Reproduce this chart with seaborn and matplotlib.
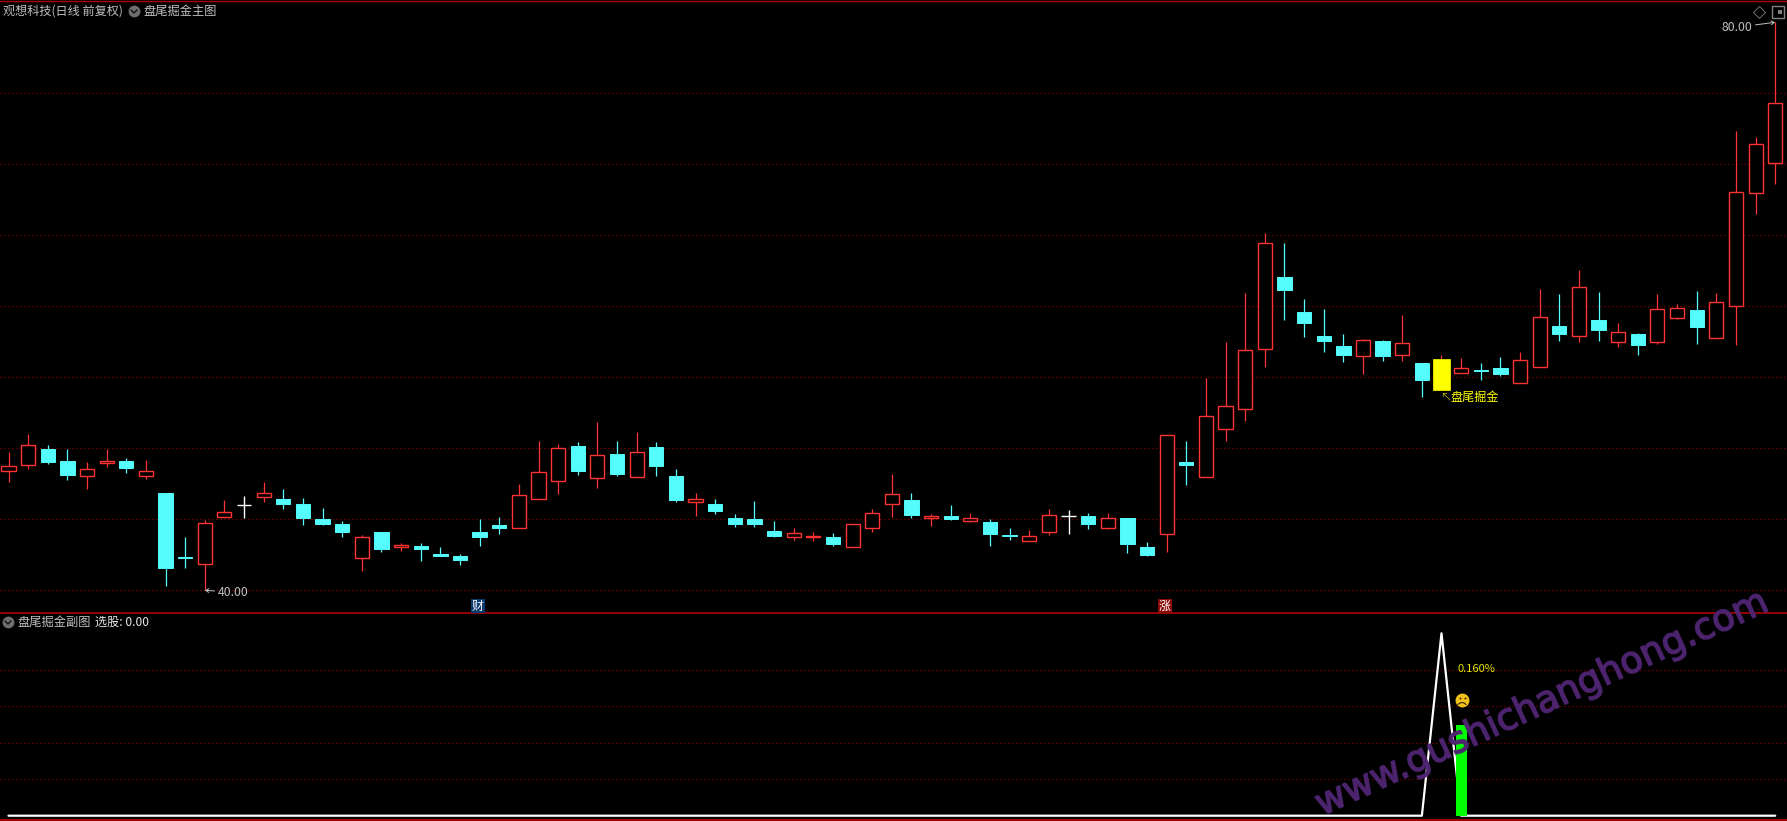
import numpy as np
import pandas as pd
import matplotlib
matplotlib.use('Agg')
import matplotlib.pyplot as plt
import matplotlib.patheffects as pe
import seaborn as sns

# Kursdaten
opens = [48.38, 48.85, 49.95, 49.11, 48.08, 48.97, 49.11, 48.08, 46.85, 42.35, 41.88, 45.19, 46.00,
         46.60, 46.43, 46.08, 45.02, 44.67, 42.30, 44.11, 43.03, 43.12, 42.56, 42.42, 44.11, 44.60,
         44.41, 46.46, 47.72, 50.16, 47.93, 49.60, 48.00, 50.09, 48.05, 46.24, 46.08, 45.09, 45.02,
         44.18, 43.78, 43.78, 43.76, 43.08, 44.41, 46.10, 46.36, 45.09, 45.23, 44.91, 44.81, 43.90,
         43.50, 44.13, 45.20, 45.23, 44.41, 45.09, 43.05, 43.99, 49.04, 48.00, 51.38, 52.79, 57.02,
         62.07, 59.60, 57.91, 57.21, 56.53, 57.56, 56.60, 56.01, 54.11, 55.33, 55.49, 55.66, 54.62,
         55.75, 58.62, 57.93, 59.04, 57.51, 58.05, 57.51, 59.20, 59.74, 57.79, 60.00, 68.00, 70.12]
highs = [49.74, 51.01, 50.23, 49.95, 49.04, 49.95, 49.32, 49.18, 46.85, 43.76, 44.93, 46.36, 46.64,
         47.63, 47.14, 46.50, 45.80, 44.88, 43.90, 44.11, 43.33, 43.33, 43.05, 42.56, 45.02, 45.16,
         47.49, 50.52, 50.31, 50.45, 51.85, 50.52, 51.15, 50.45, 48.54, 46.85, 46.43, 45.38, 46.29,
         44.88, 44.39, 44.11, 44.04, 44.65, 45.73, 48.19, 46.85, 45.38, 46.01, 45.45, 45.02, 44.39,
         44.25, 45.73, 45.66, 45.45, 45.45, 45.09, 43.40, 50.92, 50.52, 54.95, 57.49, 60.94, 65.16,
         64.46, 60.52, 59.81, 58.05, 57.70, 57.63, 59.39, 56.01, 56.57, 56.36, 56.01, 56.43, 56.78,
         61.22, 60.87, 62.56, 61.01, 58.83, 58.12, 60.87, 60.16, 61.08, 60.94, 72.35, 71.92, 80.00]
lows = [47.65, 48.57, 48.90, 47.77, 47.14, 48.69, 48.26, 47.84, 40.31, 41.57, 40.00, 45.19, 45.09,
        46.22, 45.73, 44.60, 44.60, 43.76, 41.36, 42.70, 42.77, 42.07, 42.42, 41.78, 43.12, 43.97,
        44.41, 46.46, 46.78, 48.12, 47.21, 48.05, 48.00, 48.05, 46.22, 45.23, 45.38, 44.46, 44.46,
        43.76, 43.54, 43.47, 43.12, 43.08, 44.11, 45.16, 45.09, 44.53, 44.95, 44.81, 43.12, 43.54,
        43.47, 43.90, 43.97, 44.32, 44.32, 42.63, 42.42, 42.70, 47.42, 48.00, 50.52, 51.92, 55.73,
        59.04, 57.84, 56.78, 56.08, 55.23, 56.15, 56.15, 53.62, 54.11, 55.33, 54.81, 55.09, 54.62,
        55.75, 57.56, 57.49, 57.56, 57.14, 56.57, 57.35, 59.11, 57.35, 57.79, 57.28, 66.50, 68.62]
closes = [48.73, 50.21, 49.04, 48.12, 48.52, 49.11, 48.62, 48.38, 41.57, 42.30, 44.72, 45.49, 46.00,
          46.83, 46.08, 45.09, 44.67, 44.11, 43.73, 42.91, 43.17, 42.91, 42.42, 42.14, 43.76, 44.39,
          46.69, 48.31, 50.00, 48.40, 49.51, 48.19, 49.72, 48.76, 46.36, 46.41, 45.59, 44.67, 44.67,
          43.83, 44.01, 43.83, 43.26, 44.65, 45.42, 46.76, 45.31, 45.23, 45.02, 45.07, 43.97, 43.83,
          43.80, 45.28, 45.20, 44.67, 45.07, 43.26, 42.49, 50.92, 48.83, 52.25, 52.96, 56.90, 64.44,
          61.15, 58.83, 57.56, 56.57, 57.61, 56.50, 57.39, 54.81, 56.29, 55.63, 55.47, 55.23, 56.20,
          59.23, 58.05, 61.34, 58.33, 58.17, 57.28, 59.79, 59.86, 58.54, 60.28, 68.03, 71.41, 74.30]

price_grid = [40, 45, 50, 55, 60, 65, 70, 75]
sub_grid = [0.2, 0.4, 0.6, 0.8]
signal_day = 73
# Nebenchart: Linie und gruener Balken
sub_days = [0, 72, 73, 74, 90]
sub_values = [0, 0, 1, 0, 0]
bar_day = 74
bar_value = 0.5

RED = '#ff3232'
CYAN = '#54fcfc'
YELLOW = '#ffff00'
GRIDRED = '#a00000'
GRAY = '#c0c0c0'
W, H = 1787, 821
SEP = 613.5

sns.set_theme(style='dark', rc={'figure.facecolor': 'black', 'axes.facecolor': 'black',
                                'savefig.facecolor': 'black', 'lines.scale_dashes': False})
plt.rcParams['font.family'] = ['Noto Sans CJK SC', 'DejaVu Sans']

df = pd.DataFrame({'open': opens, 'high': highs, 'low': lows, 'close': closes})
df['day'] = df.index
df['top'] = df[['open', 'close']].max(axis=1)
df['bottom'] = df[['open', 'close']].min(axis=1)

fig = plt.figure(figsize=(W / 100, H / 100), dpi=100)
ax = fig.add_axes([0, 1 - SEP / H, 1, SEP / H])
sub = fig.add_axes([0, 0, 1, 1 - SEP / H])

# x: Kerze i liegt bei 8.5 + 19.63 i Pixel
xlim = (-8.5 / 19.63, (W - 8.5) / 19.63)
ax.set_xlim(xlim)
ax.set_ylim(40 + (590.3 - SEP) / 14.2, 40 + 590.3 / 14.2)
sub.set_xlim(xlim)
sub.set_ylim(-5.3 / 182.4, 1 + (633.3 - SEP) / 182.4)

for a in (ax, sub):
    a.set_xticks([])
    a.set_yticks([])
    for s in a.spines.values():
        s.set_visible(False)

dots = (0, (0.72, 2.16))
for g in price_grid:
    ax.axhline(g, color=GRIDRED, lw=0.8, ls=dots, zorder=1)
for g in sub_grid:
    sub.axhline(g, color=GRIDRED, lw=0.8, ls=dots, zorder=1)

# Trennlinien
ax.axhline(ax.get_ylim()[1] - 1.2 / 14.2, color='#b00000', lw=1.0, zorder=2)
ax.axhline(ax.get_ylim()[0] + 0.5 / 14.2, color='#b00000', lw=1.2, zorder=2)
sub.axhline(sub.get_ylim()[0] + 1 / 182.4, color='#c00000', lw=1.2, zorder=2)

# Kerzen
up = df[(df['close'] > df['open']) & (df['day'] != signal_day)]
down = df[df['close'] < df['open']]
flat = df[df['close'] == df['open']]
sig = df[df['day'] == signal_day]

ax.vlines(up['day'], up['low'], up['high'], color=RED, lw=0.9, zorder=3)
ax.vlines(down['day'], down['low'], down['high'], color=CYAN, lw=0.9, zorder=3)
ax.vlines(flat['day'], flat['low'], flat['high'], color='white', lw=1.0, zorder=3)
ax.vlines(sig['day'], sig['low'], sig['high'], color=RED, lw=0.9, zorder=3)

ax.bar(up['day'], up['top'] - up['bottom'], bottom=up['bottom'], width=0.72,
       facecolor='black', edgecolor=RED, lw=1.0, zorder=4)
ax.bar(down['day'], down['top'] - down['bottom'], bottom=down['bottom'], width=0.73,
       facecolor=CYAN, edgecolor=CYAN, lw=0.7, zorder=4)
ax.hlines(flat['close'], flat['day'] - 0.36, flat['day'] + 0.36, color='white', lw=1.0, zorder=4)
ax.bar(sig['day'], sig['top'] - sig['bottom'], bottom=sig['bottom'], width=0.83,
       facecolor=YELLOW, edgecolor=YELLOW, lw=0.5, zorder=4)

# Hoch / Tief Markierungen
low_day = df['low'].idxmin()
high_day = df['high'].idxmax()
ax.annotate(f"{df['low'].min():.2f}", xy=(low_day, df['low'].min()), xytext=(13, -2), textcoords='offset pixels',
            color=GRAY, fontsize=8.8, va='center', ha='left', zorder=6,
            arrowprops=dict(arrowstyle='->,head_length=0.25,head_width=0.15', color=GRAY, lw=0.7,
                            shrinkA=0, shrinkB=0))
ax.annotate(f"{df['high'].max():.2f}", xy=(high_day, df['high'].max()), xytext=(-23, -5), textcoords='offset pixels',
            color=GRAY, fontsize=8.8, va='center', ha='right', zorder=6,
            arrowprops=dict(arrowstyle='->,head_length=0.25,head_width=0.15', color=GRAY, lw=0.7,
                            shrinkA=0, shrinkB=0))

# Beschriftung in Achsenpixeln
def px(x, y):
    return x / W, 1 - y / H

fig.text(*px(3, 11), '观想科技(日线 前复权)', color=GRAY, fontsize=8.7, va='center', zorder=10)
fig.text(*px(143, 11), '盘尾掘金主图', color=GRAY, fontsize=8.8, va='center', zorder=10)
fig.text(*px(17, 622), '盘尾掘金副图', color=GRAY, fontsize=8.8, va='center', zorder=10)
fig.text(*px(95, 622), '选股: 0.00', color='#e8e8e8', fontsize=8.7, va='center', zorder=10)
fig.text(*px(1440, 397), '↖', color='#b8b800', fontsize=8, va='center', zorder=10)
fig.text(*px(1450, 397), '盘尾掘金', color=YELLOW, fontsize=8.7, va='center', zorder=10)
fig.text(*px(1458, 669), '0.160%', color='#e8e800', fontsize=8, va='center', zorder=10)
fig.text(*px(472, 606), '财', color='white', fontsize=8.6, va='center', zorder=10,
         bbox=dict(facecolor='#0a3a6e', edgecolor='none', pad=0.6))
fig.text(*px(1159, 606), '涨', color='white', fontsize=8.6, va='center', zorder=10,
         bbox=dict(facecolor='#8a0a0a', edgecolor='none', pad=0.6))

# Symbole
overlay = fig.add_axes([0, 0, 1, 1], facecolor='none', zorder=9)
overlay.set_xlim(0, W)
overlay.set_ylim(H, 0)
overlay.axis('off')
overlay.plot([134, 8], [11, 622], 'o', ms=8.5, color='#6e6e6e', mew=0)
overlay.plot([131, 134, 137], [10, 13, 10], color='#111111', lw=1.0)
overlay.plot([5, 8, 11], [621, 624, 621], color='#111111', lw=1.0)
overlay.plot([1759], [12], 'D', ms=6.5, mfc='none', mec='#707070', mew=0.7)
overlay.plot([1778], [12], 's', ms=8.5, mfc='none', mec='#808080', mew=1.0)
overlay.plot([1780], [12], 's', ms=3.5, color='#808080', mew=0)
# Smiley
overlay.plot([1462], [700], 'o', ms=10, color='#f2c21a', mew=0)
overlay.plot([1459.5, 1464.5], [698, 698], 'o', ms=1.4, color='#30200a', mew=0)
overlay.plot([1458, 1460, 1462, 1464, 1466], [704.5, 703, 702.5, 703, 704.5], color='#30200a', lw=0.8)

# Nebenchart
line_df = pd.DataFrame({'day': sub_days, 'value': sub_values})
sns.lineplot(data=line_df, x='day', y='value', color='white', lw=1.6, ax=sub, zorder=3, legend=False)
sub.bar([bar_day], [bar_value], width=0.56, color='#00ff00', lw=0, zorder=4)
sub.set_xlabel('')
sub.set_ylabel('')
sub.set_xlim(xlim)

# Wasserzeichen
fig.text(*px(1322, 816), 'www.gushichanghong.com', color='#4e2470', alpha=0.85, fontsize=26.5,
         family='DejaVu Sans', rotation=24.7, rotation_mode='anchor', ha='left', va='baseline', zorder=11,
         path_effects=[pe.withStroke(linewidth=1.2, foreground='#4e2470')])

fig.savefig('out.png', dpi=100)
